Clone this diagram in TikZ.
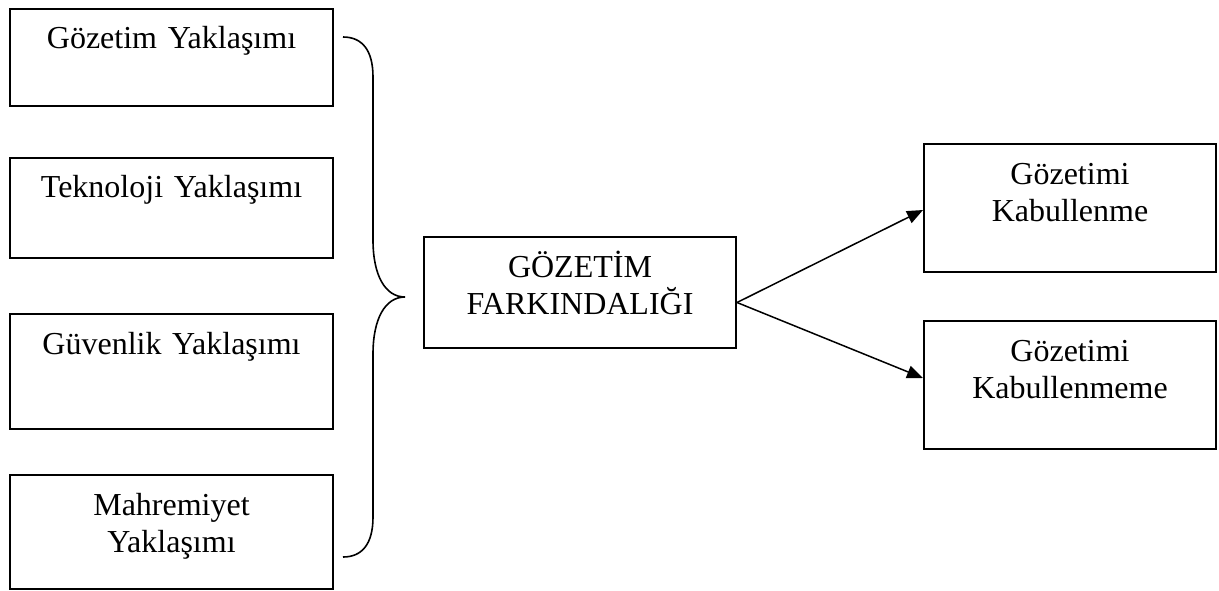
\documentclass[tikz,border=0pt]{standalone}
\usepackage{fontspec}
\setmainfont{Liberation Serif}
\usetikzlibrary{positioning, arrows.meta}
\newcommand{\headarrow}{-{Triangle[length=8pt,width=6.5pt]}}
\newcommand{\topline}{20pt}

\begin{document}
\begin{tikzpicture}[x=0.5pt, y=-0.5pt,
    box/.style={draw, line width=1pt, inner sep=0pt, align=center,
        font=\fontsize{16pt}{18.5pt}\selectfont, text height=\topline},
    leftbox/.style={box, text width=161.5pt, anchor=north west},
    rightbox/.style={box, text width=146pt, text depth=44pt, anchor=north west}]
    \useasboundingbox (0,0) rectangle (1219,590);

    \node[leftbox, text depth=28.75pt] (gozetim) at (9,7.5) {Gözetim Yaklaşımı};
    \node[leftbox, text depth=30.25pt, below=24.75pt of gozetim] (teknoloji) {Teknoloji Yaklaşımı};
    \node[leftbox, text depth=37.5pt, below=27pt of teknoloji] (guvenlik) {Güvenlik Yaklaşımı};
    \node[leftbox, text depth=37pt, below=22pt of guvenlik] (mahremiyet) {Mahremiyet\\ Yaklaşımı};

    \draw[line width=0.8pt] (343,37) .. controls (362,37) and (373,50) .. (373,77)
        -- (373,240) .. controls (373,275) and (385,297) .. (405,297)
        .. controls (385,297) and (373,319) .. (373,354)
        -- (373,517) .. controls (373,544) and (362,557) .. (343,557);

    \node[box, text width=156pt, text depth=35.5pt, anchor=north west] (farkindalik) at (423,236) {GÖZETİM\\ FARKINDALIĞI};

    \node[rightbox] (kabul) at (923,143) {Gözetimi\\ Kabullenme};
    \node[rightbox, below=23.5pt of kabul] (kabulmeme) {Gözetimi\\ Kabullenmeme};

    \draw[line width=0.75pt, \headarrow] ([yshift=-5pt]farkindalik.east) -- ([yshift=-1pt]kabul.west);
    \draw[line width=0.75pt, \headarrow] ([yshift=-5pt]farkindalik.east) -- ([yshift=3.5pt]kabulmeme.west);
\end{tikzpicture}
\end{document}
